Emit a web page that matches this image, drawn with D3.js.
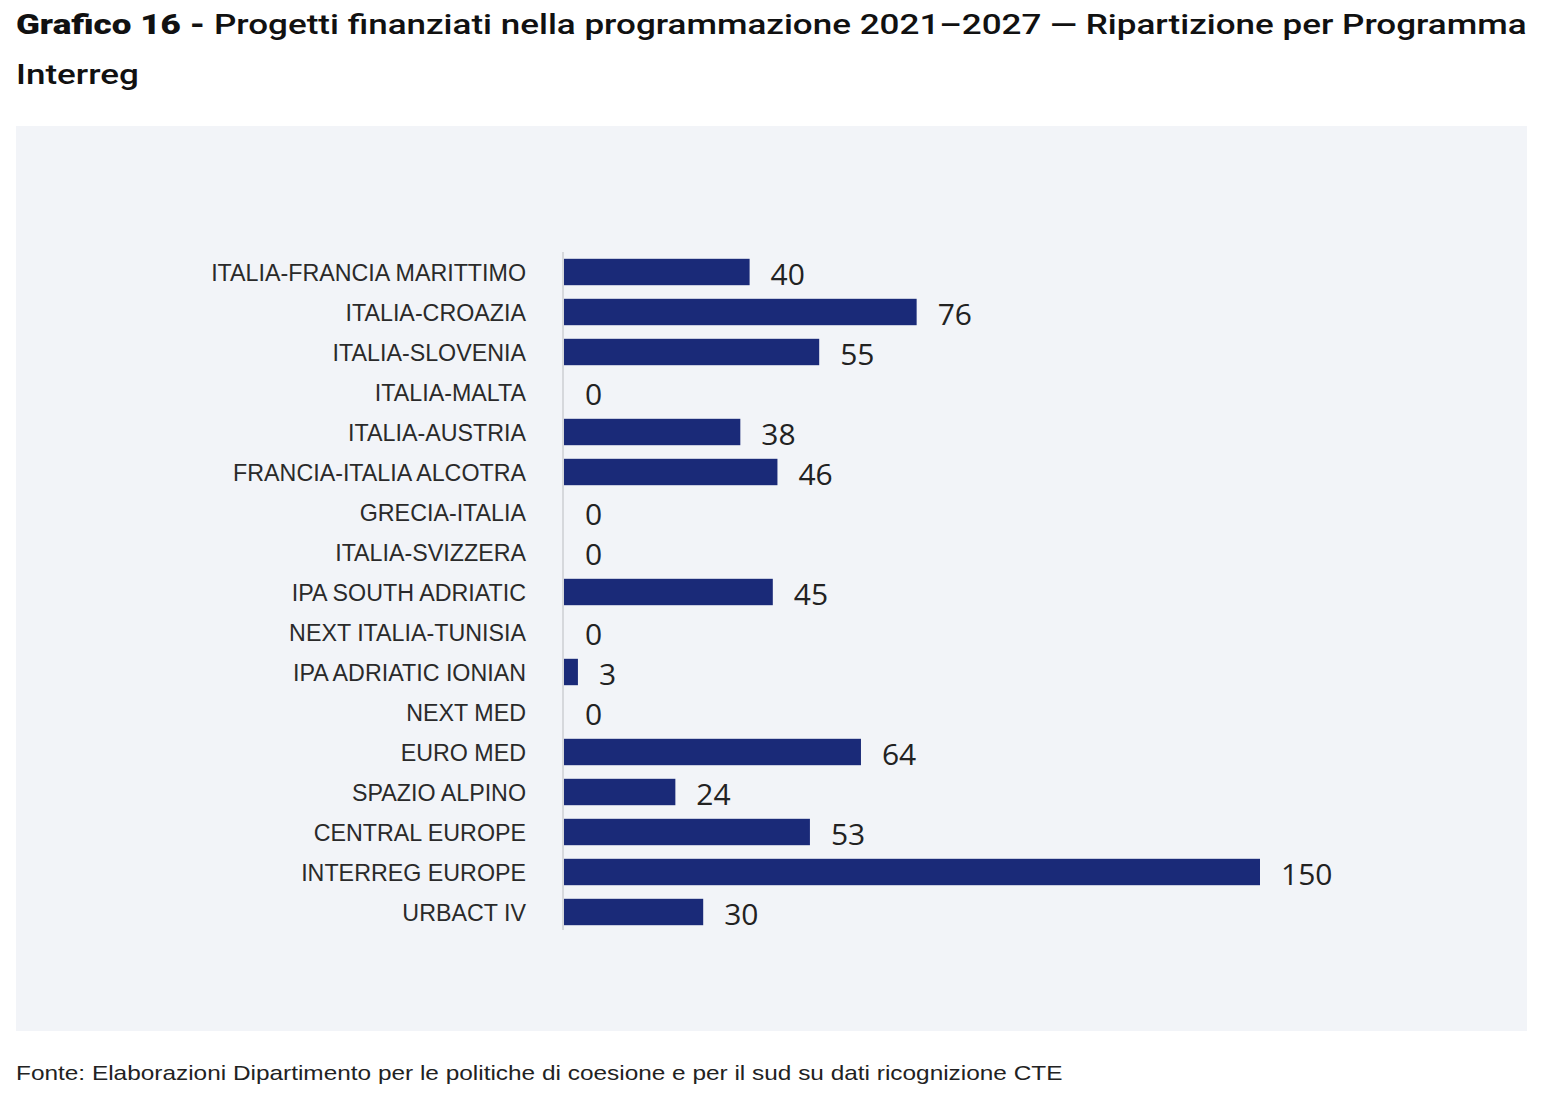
<!DOCTYPE html>
<html><head><meta charset="utf-8">
<script src="https://cdn.jsdelivr.net/npm/d3@7"></script>
<style>body{margin:0;background:#fff}svg{display:block}</style>
</head><body>
<svg id="c" width="1544" height="1098"></svg>
<script>
const categories = ["ITALIA-FRANCIA MARITTIMO","ITALIA-CROAZIA","ITALIA-SLOVENIA","ITALIA-MALTA","ITALIA-AUSTRIA","FRANCIA-ITALIA ALCOTRA","GRECIA-ITALIA","ITALIA-SVIZZERA","IPA SOUTH ADRIATIC","NEXT ITALIA-TUNISIA","IPA ADRIATIC IONIAN","NEXT MED","EURO MED","SPAZIO ALPINO","CENTRAL EUROPE","INTERREG EUROPE","URBACT IV"];
const values = [40,76,55,0,38,46,0,0,45,0,3,0,64,24,53,150,30];
const titleBold = "Grafico 16 - ";
const titleRest = "Progetti finanziati nella programmazione 2021–2027 — Ripartizione per Programma";
const titleLine2 = "Interreg";
const source = "Fonte: Elaborazioni Dipartimento per le politiche di coesione e per il sud su dati ricognizione CTE";

const svg = d3.select("#c");
svg.append("rect").attr("x",16).attr("y",126).attr("width",1511).attr("height",905).attr("fill","#f2f4f8");

const x = d3.scaleLinear().domain([0,150]).range([564,1260]);
const y = d3.scaleBand().domain(categories).range([252,932]).paddingInner(0.34).paddingOuter(0.17);

svg.append("line").attr("x1",563).attr("x2",563).attr("y1",252).attr("y2",930)
  .attr("stroke","#d6d8dc").attr("stroke-width",2);

svg.append("g").selectAll("rect").data(categories).join("rect")
  .attr("x",x(0)).attr("y",d=>y(d)).attr("height",y.bandwidth())
  .attr("width",(d,i)=>x(values[i])-x(0)).attr("fill","#1a2a78");

const lg = svg.append("g");
const labels = lg.selectAll("text").data(categories).join("text")
  .attr("x",0).attr("y",d=>y(d)+y.bandwidth()/2).attr("dy","0.36em")
  .attr("text-anchor","end").attr("font-family","Liberation Sans").attr("font-size",24)
  .attr("fill","#2a2a2a").text(d=>d);
const w0 = labels.nodes()[0].getComputedTextLength();
lg.attr("transform",`translate(526,0) scale(${315 / w0},1)`);

svg.append("g").selectAll("text").data(categories).join("text")
  .attr("x",(d,i)=>x(values[i])+21).attr("y",d=>y(d)+y.bandwidth()/2+2).attr("dy","0.36em")
  .attr("font-family","Open Sans").attr("font-size",30)
  .attr("fill","#222").text((d,i)=>values[i]);

const tg = svg.append("g");
const t = tg.append("text").attr("x",0).attr("y",34).attr("font-family","Roboto").attr("font-size",28).attr("fill","#111");
t.append("tspan").attr("font-weight","900").text(titleBold);
t.append("tspan").attr("font-weight","500").text(titleRest);
tg.append("text").attr("x",0).attr("y",84).attr("font-family","Roboto").attr("font-weight","500").attr("font-size",28)
  .attr("fill","#111").text(titleLine2);
const tw = t.node().getComputedTextLength();
tg.attr("transform",`translate(16,0) scale(${1511 / tw},1)`);

const fg = svg.append("g");
const f = fg.append("text").attr("x",0).attr("y",1080).attr("font-family","Liberation Sans").attr("font-size",20).attr("fill","#222").text(source);
const fw = f.node().getComputedTextLength();
fg.attr("transform",`translate(16,0) scale(${1047 / fw},1)`);
</script>
</body></html>
